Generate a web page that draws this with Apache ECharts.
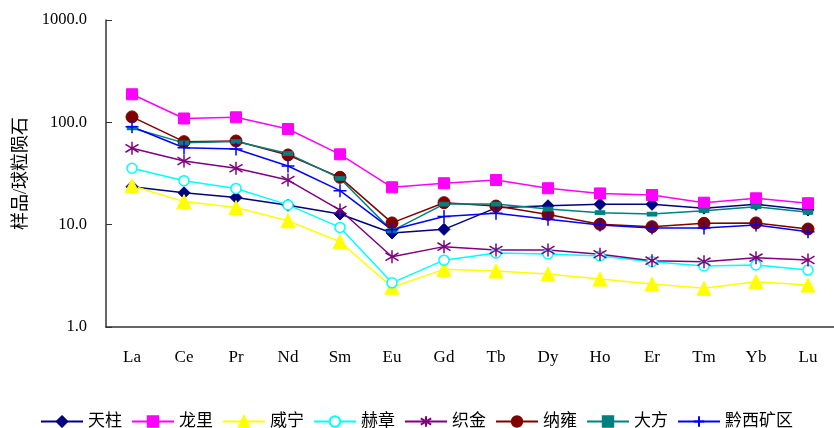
<!DOCTYPE html>
<html>
<head>
<meta charset="utf-8">
<script src="https://cdn.jsdelivr.net/npm/echarts@6/dist/echarts.min.js"></script>
<style>
  html, body { margin: 0; padding: 0; background: #fff; }
  #chart { width: 834px; height: 428px; }
</style>
</head>
<body>
<div id="chart"></div>
<script>
// REE elements (chondrite-normalised patterns)
const elements = ['La', 'Ce', 'Pr', 'Nd', 'Sm', 'Eu', 'Gd', 'Tb', 'Dy', 'Ho', 'Er', 'Tm', 'Yb', 'Lu'];

const tianzhu  = [23.5, 20.5, 18.4, 15.5, 12.7, 8.3, 9.0, 14.6, 15.3, 15.8, 15.8, 14.5, 15.8, 13.9];
const longli   = [188, 109, 112, 86, 48.7, 23.2, 25.4, 27.3, 22.7, 20.2, 19.5, 16.4, 18.1, 16.2];
const weining  = [24.0, 16.8, 14.7, 10.9, 6.8, 2.45, 3.66, 3.52, 3.3, 2.94, 2.63, 2.39, 2.77, 2.57];
const hezhang  = [35.6, 26.9, 22.6, 15.6, 9.4, 2.7, 4.5, 5.3, 5.17, 4.94, 4.35, 3.95, 4.04, 3.6];
const zhijin   = [55.7, 41.9, 35.6, 27.3, 13.9, 4.86, 6.1, 5.65, 5.65, 5.13, 4.45, 4.35, 4.76, 4.52];
const nayong   = [113, 64.7, 65.7, 48, 29, 10.4, 16.4, 15.2, 12.6, 10.1, 9.55, 10.3, 10.4, 9.07];
const dafang   = [88, 63, 65, 49.5, 28.3, 8.7, 15.9, 15.9, 14.2, 13.1, 12.7, 13.7, 15.0, 13.2];
const qianxi   = [90.6, 56.5, 54.9, 37.4, 21.5, 8.9, 12.0, 12.9, 11.3, 9.9, 9.3, 9.3, 9.9, 8.54];

const yTicks = [1, 10, 100, 1000];

const serif = "'Liberation Serif', 'Times New Roman', 'Noto Sans CJK SC', serif";

const plusPath = 'path://M5,0L5,10M0,5L10,5';
const starPath = 'path://M5,0L5,10M0.8,2L9.2,8M0.8,8L9.2,2';

function line(name, data, color, symbol, size, extra) {
  return Object.assign({
    name: name,
    type: 'line',
    data: data,
    symbol: symbol,
    symbolSize: size,
    lineStyle: { color: color, width: 1.5 },
    itemStyle: { color: color, borderColor: color, borderWidth: 1 },
    emphasis: { disabled: true },
    animation: false,
    z: 2
  }, extra || {});
}

const chart = echarts.init(document.getElementById('chart'));
chart.setOption({
  backgroundColor: '#fff',
  animation: false,
  grid: { left: 106, right: -7, top: 20, bottom: 101 },
  legend: {
    top: 408,
    left: 35,
    itemWidth: 42,
    itemHeight: 13,
    itemGap: 9,
    textStyle: { fontFamily: serif, fontSize: 17, color: '#000' },
    data: ['天柱', '龙里', '威宁', '赫章', '织金', '纳雍', '大方', '黔西矿区']
  },
  xAxis: {
    type: 'category',
    data: elements,
    boundaryGap: true,
    axisLine: { lineStyle: { color: '#333', width: 1.5 } },
    axisTick: { inside: true, length: 5, interval: 0, lineStyle: { color: '#333' } },
    axisLabel: { margin: 22, fontFamily: serif, fontSize: 17, color: '#000', interval: 0 },
    splitLine: { show: false }
  },
  yAxis: {
    type: 'log',
    logBase: 10,
    min: yTicks[0],
    max: yTicks[yTicks.length - 1],
    name: '样品/球粒陨石',
    nameLocation: 'middle',
    nameRotate: 90,
    nameGap: 76,
    nameTextStyle: { fontFamily: serif, fontSize: 18, color: '#000' },
    axisLine: { show: true, lineStyle: { color: '#333', width: 1.5 } },
    axisTick: { show: true, inside: true, length: 6, lineStyle: { color: '#333' } },
    axisLabel: {
      margin: 19,
      fontFamily: serif,
      fontSize: 16.5,
      color: '#000',
      formatter: v => Number(v).toFixed(1)
    },
    splitLine: { show: false },
    minorTick: { show: false }
  },
  series: [
    line('天柱', tianzhu, '#000080', 'diamond', 12),
    line('龙里', longli, '#FF00FF', 'rect', 11),
    line('威宁', weining, '#FFFF00', 'triangle', 14),
    line('赫章', hezhang, '#00FFFF', 'circle', 10, {
      itemStyle: { color: '#fff', borderColor: '#00FFFF', borderWidth: 1.5 }
    }),
    line('织金', zhijin, '#800080', starPath, 13, {
      itemStyle: { color: '#800080', borderColor: '#800080', borderWidth: 1.5 }
    }),
    line('纳雍', nayong, '#800000', 'circle', 12),
    line('大方', dafang, '#008080', 'rect', [9, 4]),
    line('黔西矿区', qianxi, '#0000FF', plusPath, 13, {
      itemStyle: { color: '#0000FF', borderColor: '#0000FF', borderWidth: 1.5 }
    })
  ]
});
</script>
</body>
</html>
